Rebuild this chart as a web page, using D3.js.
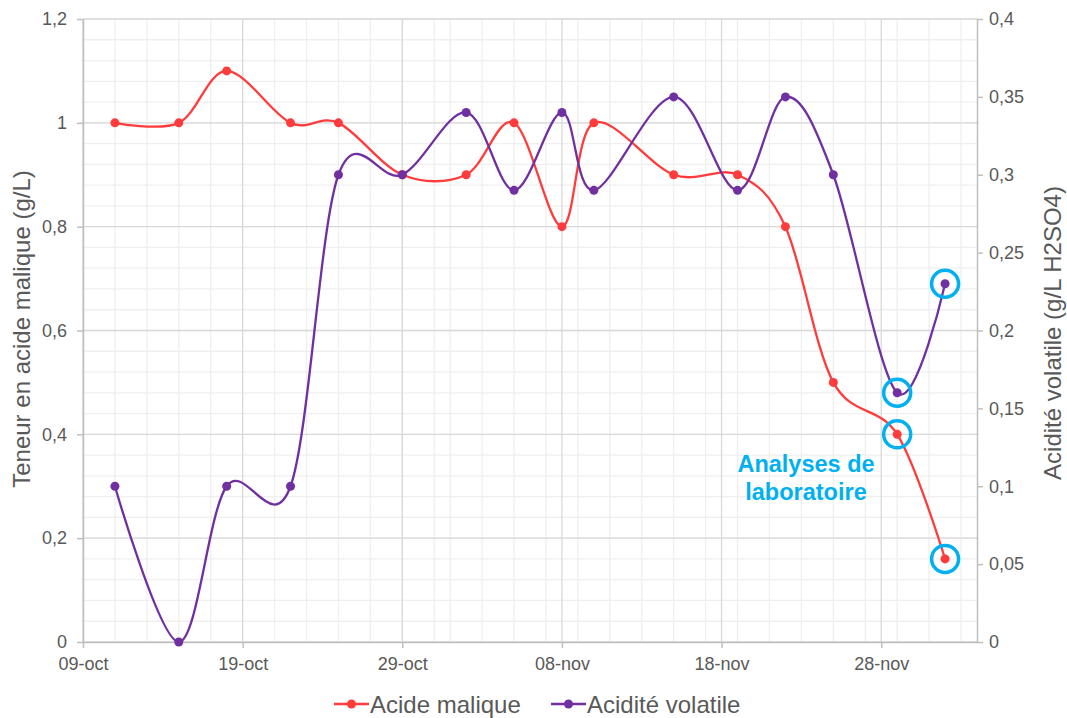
<!DOCTYPE html>
<html>
<head>
<meta charset="utf-8">
<script src="https://cdn.jsdelivr.net/npm/d3@7"></script>
<style>
  body { margin: 0; background: #fff; }
  svg { font-family: "Liberation Sans", Arial, sans-serif; }
</style>
</head>
<body>
<svg id="chart" width="1067" height="718"></svg>
<script>
// Sampling dates
const dates = ["2019-10-11","2019-10-15","2019-10-18","2019-10-22","2019-10-25","2019-10-29",
               "2019-11-02","2019-11-05","2019-11-08","2019-11-10","2019-11-15","2019-11-19",
               "2019-11-22","2019-11-25","2019-11-29","2019-12-02"];
// Malic acid content (g/L), left axis
const acideMalique = [1.0, 1.0, 1.1, 1.0, 1.0, 0.9, 0.9, 1.0, 0.8, 1.0, 0.9, 0.9, 0.8, 0.5, 0.4, 0.16];
// Volatile acidity (g/L H2SO4), right axis
const aciditeVolatile = [0.1, 0.0, 0.1, 0.1, 0.3, 0.3, 0.34, 0.29, 0.34, 0.29, 0.35, 0.29, 0.35, 0.3, 0.16, 0.23];
// Points confirmed by lab analysis (indices into the series above)
const labMalique = [14, 15];
const labVolatile = [14, 15];

const leftTicks = [0, 0.2, 0.4, 0.6, 0.8, 1.0, 1.2];
const rightTicks = [0, 0.05, 0.1, 0.15, 0.2, 0.25, 0.3, 0.35, 0.4];
const xTickDates = ["2019-10-09","2019-10-19","2019-10-29","2019-11-08","2019-11-18","2019-11-28"];
const xTickLabels = ["09-oct","19-oct","29-oct","08-nov","18-nov","28-nov"];

const parse = d3.utcParse("%Y-%m-%d");
const svg = d3.select("#chart");
const m = { left: 83, right: 977, top: 19, bottom: 642 };

const x = d3.scaleUtc().domain([parse("2019-10-09"), parse("2019-12-04")]).range([m.left, m.right]);
const yL = d3.scaleLinear().domain([0, 1.2]).range([m.bottom, m.top]);
const yR = d3.scaleLinear().domain([0, 0.4]).range([m.bottom, m.top]);

const fmt = v => String(+v.toFixed(2)).replace(".", ",");
const textCol = "#595959";
const axisCol = "#bfbfbf";
const red = "#ff3b3b";
const purple = "#7030a0";
const cyan = "#00b0f0";

// Minor grid
const g = svg.append("g");
const minorDays = d3.utcDay.every(2).range(parse("2019-10-09"), parse("2019-12-05"));
const minorY = d3.range(0, 1.2001, 0.04);
g.selectAll(".mvx").data(minorDays).enter().append("line")
  .attr("x1", d => x(d)).attr("x2", d => x(d)).attr("y1", m.top).attr("y2", m.bottom)
  .attr("stroke", "#efefef").attr("stroke-width", 1.3);
g.selectAll(".mhy").data(minorY).enter().append("line")
  .attr("x1", m.left).attr("x2", m.right).attr("y1", d => yL(d)).attr("y2", d => yL(d))
  .attr("stroke", "#efefef").attr("stroke-width", 1.3);
// Major grid
g.selectAll(".vx").data(xTickDates.map(parse)).enter().append("line")
  .attr("x1", d => x(d)).attr("x2", d => x(d)).attr("y1", m.top).attr("y2", m.bottom)
  .attr("stroke", "#d9d9d9").attr("stroke-width", 1.3);
g.selectAll(".hy").data(leftTicks).enter().append("line")
  .attr("x1", m.left).attr("x2", m.right).attr("y1", d => yL(d)).attr("y2", d => yL(d))
  .attr("stroke", "#d9d9d9").attr("stroke-width", 1.3);

// Axes
function styleAxis(sel) {
  sel.select(".domain").attr("stroke", axisCol).attr("stroke-width", 1.5);
  sel.selectAll(".tick line").attr("stroke", axisCol).attr("stroke-width", 1.5);
  sel.selectAll("text").attr("fill", textCol).attr("font-size", 18)
    .attr("font-family", "'Liberation Sans', Arial, sans-serif");
}
svg.append("g").attr("transform", `translate(${m.left},0)`)
  .call(d3.axisLeft(yL).tickValues(leftTicks).tickFormat(fmt).tickSize(6).tickSizeOuter(0).tickPadding(10))
  .call(styleAxis);
svg.append("g").attr("transform", `translate(${m.right},0)`)
  .call(d3.axisRight(yR).tickValues(rightTicks).tickFormat(fmt).tickSize(6).tickSizeOuter(0).tickPadding(6))
  .call(styleAxis);
svg.append("g").attr("transform", `translate(0,${m.bottom})`)
  .call(d3.axisBottom(x).tickValues(xTickDates.map(parse)).tickFormat((d, i) => xTickLabels[i]).tickSize(6).tickSizeOuter(0).tickPadding(9))
  .call(styleAxis);

// Axis titles
svg.append("text").attr("transform", `translate(30,329) rotate(-90)`)
  .attr("text-anchor", "middle").attr("fill", textCol).attr("font-size", 24)
  .text("Teneur en acide malique (g/L)");
svg.append("text").attr("transform", `translate(1061,333) rotate(-90)`)
  .attr("text-anchor", "middle").attr("fill", textCol).attr("font-size", 24)
  .text("Acidité volatile (g/L H2SO4)");

// Series
const curve = d3.curveCatmullRom.alpha(0);
function drawSeries(values, yScale, color) {
  const pts = dates.map((d, i) => [x(parse(d)), yScale(values[i])]);
  svg.append("path").attr("d", d3.line().curve(curve)(pts))
    .attr("fill", "none").attr("stroke", color).attr("stroke-width", 2.3);
  svg.append("g").selectAll("circle").data(pts).enter().append("circle")
    .attr("cx", p => p[0]).attr("cy", p => p[1]).attr("r", 4.5).attr("fill", color);
}
drawSeries(acideMalique, yL, red);
drawSeries(aciditeVolatile, yR, purple);

// Lab-analysis highlights
function ring(idx, values, yScale) {
  svg.append("g").selectAll("circle").data(idx).enter().append("circle")
    .attr("cx", i => x(parse(dates[i]))).attr("cy", i => yScale(values[i]))
    .attr("r", 13.5).attr("fill", "none").attr("stroke", cyan).attr("stroke-width", 3.5);
}
ring(labMalique, acideMalique, yL);
ring(labVolatile, aciditeVolatile, yR);

const note = svg.append("text").attr("text-anchor", "middle").attr("fill", cyan)
  .attr("font-size", 23.5).attr("font-weight", "bold");
note.append("tspan").attr("x", 806).attr("y", 472).text("Analyses de");
note.append("tspan").attr("x", 806).attr("y", 500).text("laboratoire");

// Legend
const legend = [{ label: "Acide malique", color: red, x: 334 }, { label: "Acidité volatile", color: purple, x: 551 }];
const lg = svg.append("g").selectAll("g").data(legend).enter().append("g")
  .attr("transform", d => `translate(${d.x},704)`);
lg.append("line").attr("x1", 0).attr("x2", 35).attr("stroke", d => d.color).attr("stroke-width", 2.3);
lg.append("circle").attr("cx", 17.5).attr("r", 4.5).attr("fill", d => d.color);
lg.append("text").attr("x", 36).attr("y", 8.5).attr("fill", textCol).attr("font-size", 24).text(d => d.label);
</script>
</body>
</html>
